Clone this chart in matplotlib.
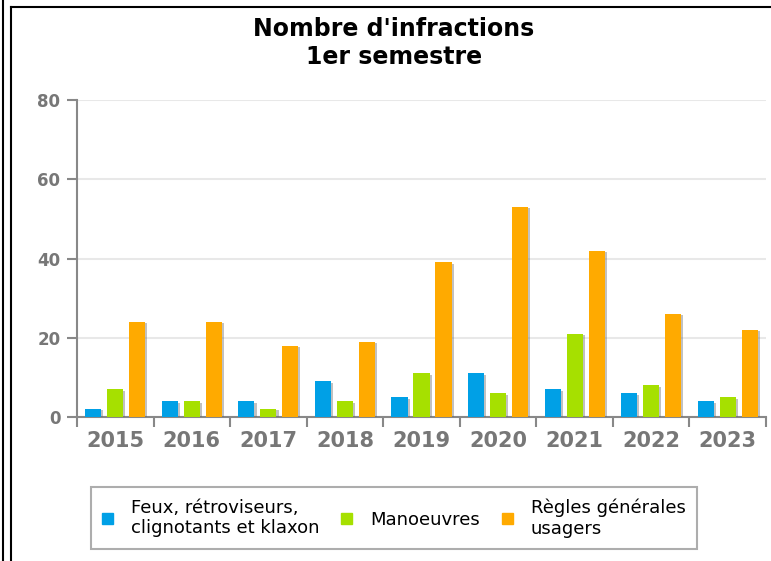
import numpy as np
import matplotlib.pyplot as plt
import matplotlib.patheffects as pe
from matplotlib.lines import Line2D

# data
years = ['2015', '2016', '2017', '2018', '2019', '2020', '2021', '2022', '2023']
feux = [2, 4, 4, 9, 5, 11, 7, 6, 4]
manoeuvres = [7, 4, 2, 4, 11, 6, 21, 8, 5]
regles = [24, 24, 18, 19, 39, 53, 42, 26, 22]
labels = ['Feux, rétroviseurs,\nclignotants et klaxon', 'Manoeuvres', 'Règles générales\nusagers']
colors = ['#00a0e6', '#a6e000', '#ffaa00']

W, H = 771, 561
fig = plt.figure(figsize=(W/100, H/100), dpi=100)
ax = fig.add_axes([77/W, 1-417/H, 689/W, 317/H])

x = np.arange(len(years))
bw = 0.21
step = 0.287
shadow = [pe.SimplePatchShadow(offset=(1.5, -1), shadow_rgbFace='#666666', alpha=0.4), pe.Normal()]
for k, (vals, c) in enumerate(zip([feux, manoeuvres, regles], colors)):
    bars = ax.bar(x + (k-1)*step, vals, bw, color=c, label=labels[k], zorder=3)
    for b in bars:
        b.set_path_effects(shadow)

ax.set_xlim(-0.5, len(years)-0.5)
ax.set_ylim(0, 80)
ax.set_yticks([0, 20, 40, 60, 80])
ax.grid(axis='y', color='#e8e8e8', lw=1.5, zorder=0)
ax.set_axisbelow(True)

for s in ['top', 'right']:
    ax.spines[s].set_visible(False)
for s in ['left', 'bottom']:
    ax.spines[s].set_color('#888888')
    ax.spines[s].set_linewidth(1.5)

ax.set_xticks(np.arange(-0.5, len(years), 1.0))
ax.set_xticklabels([])
ax.set_xticks(x, minor=True)
ax.set_xticklabels(years, minor=True, fontsize=15, fontweight='bold', color='#777777')
ax.tick_params(axis='x', which='major', length=7, width=1.5, color='#888888', direction='out')
ax.tick_params(axis='x', which='minor', length=0, pad=10)
ax.tick_params(axis='y', length=7, width=1.5, color='#888888', labelsize=12, labelcolor='#777777', pad=5)
for t in ax.get_yticklabels():
    t.set_fontweight('bold')

fig.text(394/W, 1-43/H, "Nombre d'infractions\n1er semestre", ha='center', va='center',
         fontsize=17, fontweight='bold', linespacing=1.25)

handles = [plt.Rectangle((0, 0), 1, 1, color=c) for c in colors]
leg = fig.legend(handles, labels, loc='center', bbox_to_anchor=(394/W, 1-518/H), ncol=3,
                 fontsize=13, frameon=True, fancybox=False, edgecolor='#999999',
                 handlelength=0.6, handleheight=0.6, handletextpad=1.0, columnspacing=1.2,
                 borderpad=0.65, borderaxespad=0)
leg.get_frame().set_linewidth(1.5)
leg._legend_box.sep = 0
# widen frame slightly to match reference box
leg.borderpad = 0.65

# outer border lines
fig.add_artist(Line2D([2.5/W, 2.5/W], [0, 1], color='black', lw=1.5, transform=fig.transFigure))
fig.add_artist(Line2D([10.5/W, 10.5/W], [0, 1-7/H], color='black', lw=1.5, transform=fig.transFigure))
fig.add_artist(Line2D([10.5/W, 1], [1-7/H, 1-7/H], color='black', lw=1.5, transform=fig.transFigure))

fig.savefig('out.png', dpi=100)
